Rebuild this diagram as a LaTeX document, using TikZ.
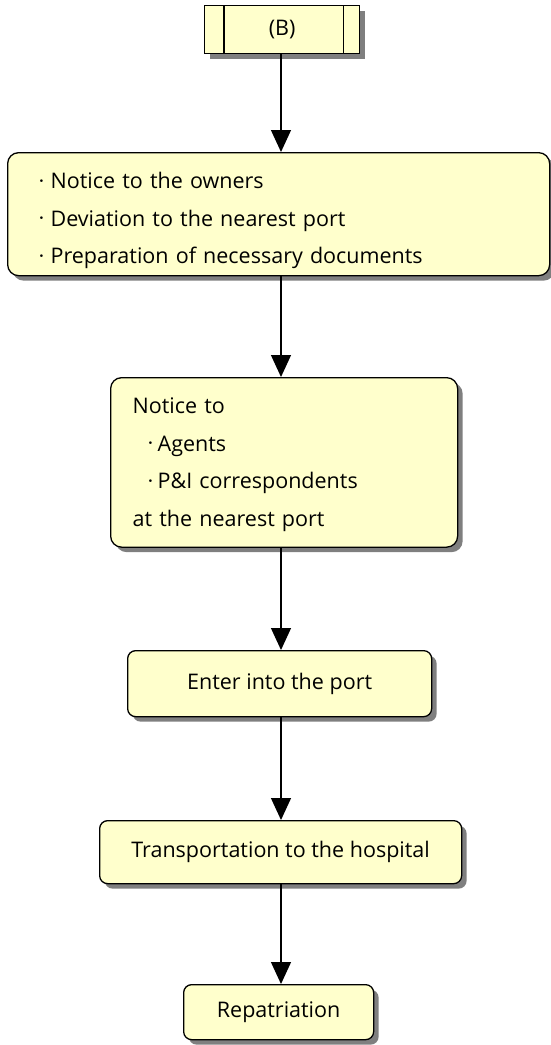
\documentclass[tikz,border=0pt]{standalone}
\usepackage{fontspec}
\setmainfont{Open Sans}
\newfontfamily\dejavu{DejaVu Sans}
\usetikzlibrary{arrows.meta,shadows}
\definecolor{boxfill}{HTML}{FFFFCC}
\definecolor{shadowgray}{HTML}{7F7F7F}
\newcommand{\bdot}[1]{\leavevmode\llap{\makebox[0pt][c]{\raisebox{4.2pt}{\fontsize{9}{9}\dejavu •}}\hspace{#1}}}
\begin{document}
\begin{tikzpicture}[x=1pt,y=-1pt,
  boxbase/.style={draw=black, line width=1.3pt, fill=boxfill,
    drop shadow={shadow xshift=5pt, shadow yshift=-5pt, fill=shadowgray, opacity=1},
    font=\fontsize{21.5}{37.5}\selectfont, inner sep=0pt},
  flowbox/.style={boxbase, rounded corners=11pt},
  smallbox/.style={boxbase, rounded corners=8pt, anchor=north west},
  conn/.style={line width=1.3pt, -{Triangle[width=20pt,length=22pt]}}]
\useasboundingbox (0,0) rectangle (551,1045);
\coordinate (axis) at (281,0);

\node[boxbase, anchor=north west, minimum width=155pt, minimum height=48pt] (b) at (204,5) {(B)};
\draw[line width=1.3pt] ([xshift=20pt]b.north west) -- ([xshift=20pt]b.south west);
\draw[line width=1.3pt] ([xshift=-17pt]b.north east) -- ([xshift=-17pt]b.south east);

\node[flowbox, anchor=north west, align=left, text width=456pt, inner xsep=43pt] (n1) at (7,152)
 {\rule{0pt}{36pt}\bdot{9pt}Notice to the owners\\
  \bdot{9pt}Deviation to the nearest port\\
  \bdot{9pt}Preparation of necessary documents\rule[-12pt]{0pt}{0pt}};

\node[flowbox, anchor=north west, align=left, text width=303pt, inner xsep=22pt] (n2) at (110,377)
 {\rule{0pt}{36pt}Notice to\\
  \hspace*{25pt}\bdot{7pt}Agents\\
  \hspace*{25pt}\bdot{7pt}P\&I correspondents\\
  at the nearest port\rule[-21pt]{0pt}{0pt}};

\node[smallbox, minimum width=304pt, minimum height=66pt] (n3) at (127,650) {Enter into the port};
\node[smallbox, minimum width=362pt, minimum height=63pt] (n4) at (99,820) {Transportation to the hospital};
\node[smallbox, minimum width=190pt, minimum height=55pt] (n5) at (183,984) {Repatriation};

\draw[conn] (b.south -| axis) -- (n1.north -| axis);
\draw[conn] (n1.south -| axis) -- (n2.north -| axis);
\draw[conn] (n2.south -| axis) -- (n3.north -| axis);
\draw[conn] (n3.south -| axis) -- (n4.north -| axis);
\draw[conn] (n4.south -| axis) -- (n5.north -| axis);
\end{tikzpicture}
\end{document}
